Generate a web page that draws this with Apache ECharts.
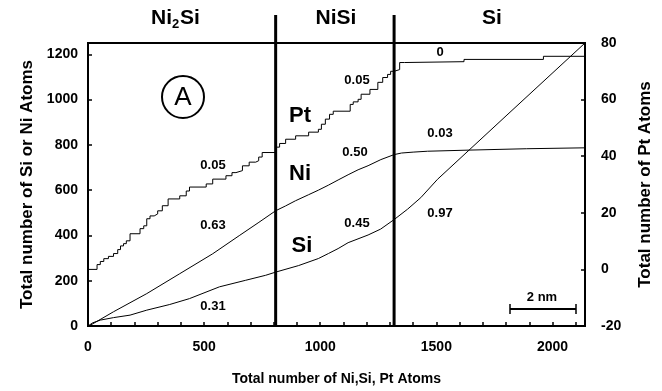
<!DOCTYPE html>
<html>
<head>
<meta charset="utf-8">
<script src="https://cdn.jsdelivr.net/npm/echarts@6/dist/echarts.min.js"></script>
<style>
  html, body { margin: 0; padding: 0; background: #fff; }
  #chart { width: 662px; height: 391px; }
</style>
</head>
<body>
<div id="chart"></div>
<script>
// Pt: cumulative count, read as stair levels (x where the level starts, level)
const ptSteps = [
  [0, 0], [39, 1.7], [53, 2.8], [68, 3.8], [88, 4.6], [110, 5.6], [128, 7.0],
  [140, 8.3], [153, 9.1], [165, 10.1], [181, 12.6], [224, 14.4], [240, 15.4],
  [253, 17.9], [267, 18.9], [285, 19.6], [300, 20.7], [320, 22.5], [345, 24.9],
  [395, 26.0], [423, 27.7], [437, 29.1], [509, 30.2], [537, 31.9], [594, 33.1],
  [620, 34.2], [637, 34.9], [665, 36.6], [694, 37.9], [722, 38.4], [735, 39.7],
  [750, 41.3], [808, 43.2], [825, 44.5], [851, 46.0], [894, 47.2], [950, 48.5],
  [992, 49.5], [1005, 51.3], [1022, 53.1], [1040, 54.8], [1056, 55.9],
  [1129, 58.3], [1142, 59.2], [1163, 60.1], [1176, 61.9], [1214, 63.6],
  [1248, 66.1], [1269, 67.8], [1290, 68.9], [1303, 70.0], [1318, 70.6],
  [1342, 73.1], [1363, 73.4], [1619, 74.2], [1961, 75.3], [2140, 75.3]
];
const niPoints = [
  [0, 0], [11, 4], [110, 63], [253, 143], [395, 231], [537, 319], [651, 399],
  [736, 458], [808, 509], [850, 530], [893, 553], [950, 580], [992, 600],
  [1035, 622], [1077, 645], [1120, 668], [1163, 690], [1206, 708], [1261, 735],
  [1318, 757], [1350, 764], [1400, 768], [1462, 772], [1645, 777], [1889, 783],
  [2140, 787]
];
const siPoints = [
  [0, 0], [20, 14], [53, 26], [110, 37], [181, 48], [253, 70], [352, 95],
  [437, 121], [566, 173], [679, 202], [765, 224], [808, 238], [907, 267],
  [992, 298], [1035, 320], [1077, 342], [1120, 368], [1206, 402], [1260, 428],
  [1318, 470], [1376, 516], [1433, 567], [1505, 648], [1800, 928], [2140, 1250]
];
const boundaryX = [808, 1318];
const xTickLabels = [0, 500, 1000, 1500, 2000];

const font = '"Liberation Sans", Arial, sans-serif';
const chart = echarts.init(document.getElementById('chart'));

const txt = (x, y, text, size, align) => ({
  type: 'text',
  x,
  y,
  style: {
    text,
    font: `bold ${size}px ${font}`,
    fill: '#000',
    align: align || 'center',
    verticalAlign: 'middle'
  }
});

const lineSeries = (name, data, yAxisIndex, step) => ({
  type: 'line',
  name,
  data,
  yAxisIndex,
  step: step || false,
  showSymbol: false,
  symbol: 'none',
  smooth: false,
  lineStyle: { color: '#000', width: 1 },
  z: 3
});

const tickLabel = { fontFamily: font, fontWeight: 'bold', fontSize: 14, color: '#000' };
const axisTitle = size => ({ fontFamily: font, fontWeight: 'bold', fontSize: size, color: '#000' });

chart.setOption({
  animation: false,
  grid: {
    left: 88,
    right: 74,
    top: 43,
    height: 285,
    show: true,
    borderColor: '#000',
    borderWidth: 2,
    backgroundColor: 'transparent'
  },
  xAxis: {
    type: 'value',
    min: 0,
    max: 2140,
    interval: 100,
    name: 'Total number of Ni,Si, Pt Atoms',
    nameLocation: 'middle',
    nameGap: 46,
    nameTextStyle: axisTitle(14),
    axisLine: { lineStyle: { color: '#000', width: 2 } },
    axisTick: { inside: true, length: 4, lineStyle: { color: '#000', width: 1.5 } },
    axisLabel: {
      ...tickLabel,
      margin: 14,
      formatter: v => (xTickLabels.includes(v) ? String(v) : '')
    },
    splitLine: { show: false }
  },
  yAxis: [
    {
      type: 'value',
      position: 'left',
      min: 0,
      max: 1250,
      interval: 200,
      name: 'Total number of Si or Ni Atoms',
      nameLocation: 'middle',
      nameRotate: 90,
      nameGap: 50,
      nameTextStyle: axisTitle(17),
      axisLine: { show: true, lineStyle: { color: '#000', width: 2 } },
      axisTick: { inside: true, length: 4, lineStyle: { color: '#000', width: 1.5 } },
      axisLabel: { ...tickLabel, margin: 10, showMaxLabel: false, formatter: v => String(v) },
      splitLine: { show: false }
    },
    {
      type: 'value',
      position: 'right',
      min: -20,
      max: 80,
      interval: 20,
      name: 'Total number of Pt Atoms',
      nameLocation: 'middle',
      nameRotate: 90,
      nameGap: 52,
      nameTextStyle: axisTitle(17),
      axisLine: { show: true, lineStyle: { color: '#000', width: 2 } },
      axisTick: { inside: true, length: 4, lineStyle: { color: '#000', width: 1.5 } },
      axisLabel: { ...tickLabel, margin: 16, formatter: v => String(v) },
      splitLine: { show: false }
    }
  ],
  series: [
    lineSeries('Pt', ptSteps, 1, 'end'),
    lineSeries('Ni', niPoints, 0),
    lineSeries('Si', siPoints, 0),
    {
      type: 'custom',
      name: 'boundaries',
      clip: false,
      silent: true,
      yAxisIndex: 0,
      data: boundaryX.map(x => [x, 0]),
      encode: { x: 0, y: 1 },
      renderItem: (params, api) => {
        const bottom = api.coord([api.value(0), 0]);
        const top = api.coord([api.value(0), 1250]);
        return {
          type: 'line',
          shape: { x1: bottom[0], y1: bottom[1], x2: top[0], y2: top[1] - 28 },
          style: { stroke: '#000', lineWidth: 3 }
        };
      },
      z: 4
    }
  ],
  graphic: [
    // phase labels
    txt(172, 18, 'Ni', 21, 'right'),
    txt(172, 24, '2', 13, 'left'),
    txt(180, 18, 'Si', 21, 'left'),
    txt(336, 18, 'NiSi', 21),
    txt(492, 18, 'Si', 21),
    // circled A
    {
      type: 'circle',
      shape: { cx: 183, cy: 97, r: 21 },
      style: { fill: 'none', stroke: '#000', lineWidth: 2 }
    },
    {
      type: 'text',
      x: 183,
      y: 98,
      style: { text: 'A', font: `26px ${font}`, fill: '#000', align: 'center', verticalAlign: 'middle' }
    },
    // curve names
    txt(300, 116, 'Pt', 22),
    txt(300, 174, 'Ni', 22),
    txt(302, 246, 'Si', 22),
    // slopes
    txt(213, 165, '0.05', 13),
    txt(213, 225, '0.63', 13),
    txt(213, 306, '0.31', 13),
    txt(357, 80, '0.05', 13),
    txt(355, 152, '0.50', 13),
    txt(357, 223, '0.45', 13),
    txt(440, 52, '0', 13),
    txt(440, 133, '0.03', 13),
    txt(440, 213, '0.97', 13),
    // scale bar
    txt(542, 297, '2 nm', 13),
    { type: 'line', shape: { x1: 510, y1: 309, x2: 576, y2: 309 }, style: { stroke: '#000', lineWidth: 2 } },
    { type: 'line', shape: { x1: 510, y1: 304, x2: 510, y2: 314 }, style: { stroke: '#000', lineWidth: 1.5 } },
    { type: 'line', shape: { x1: 576, y1: 304, x2: 576, y2: 314 }, style: { stroke: '#000', lineWidth: 1.5 } }
  ]
});
</script>
</body>
</html>
